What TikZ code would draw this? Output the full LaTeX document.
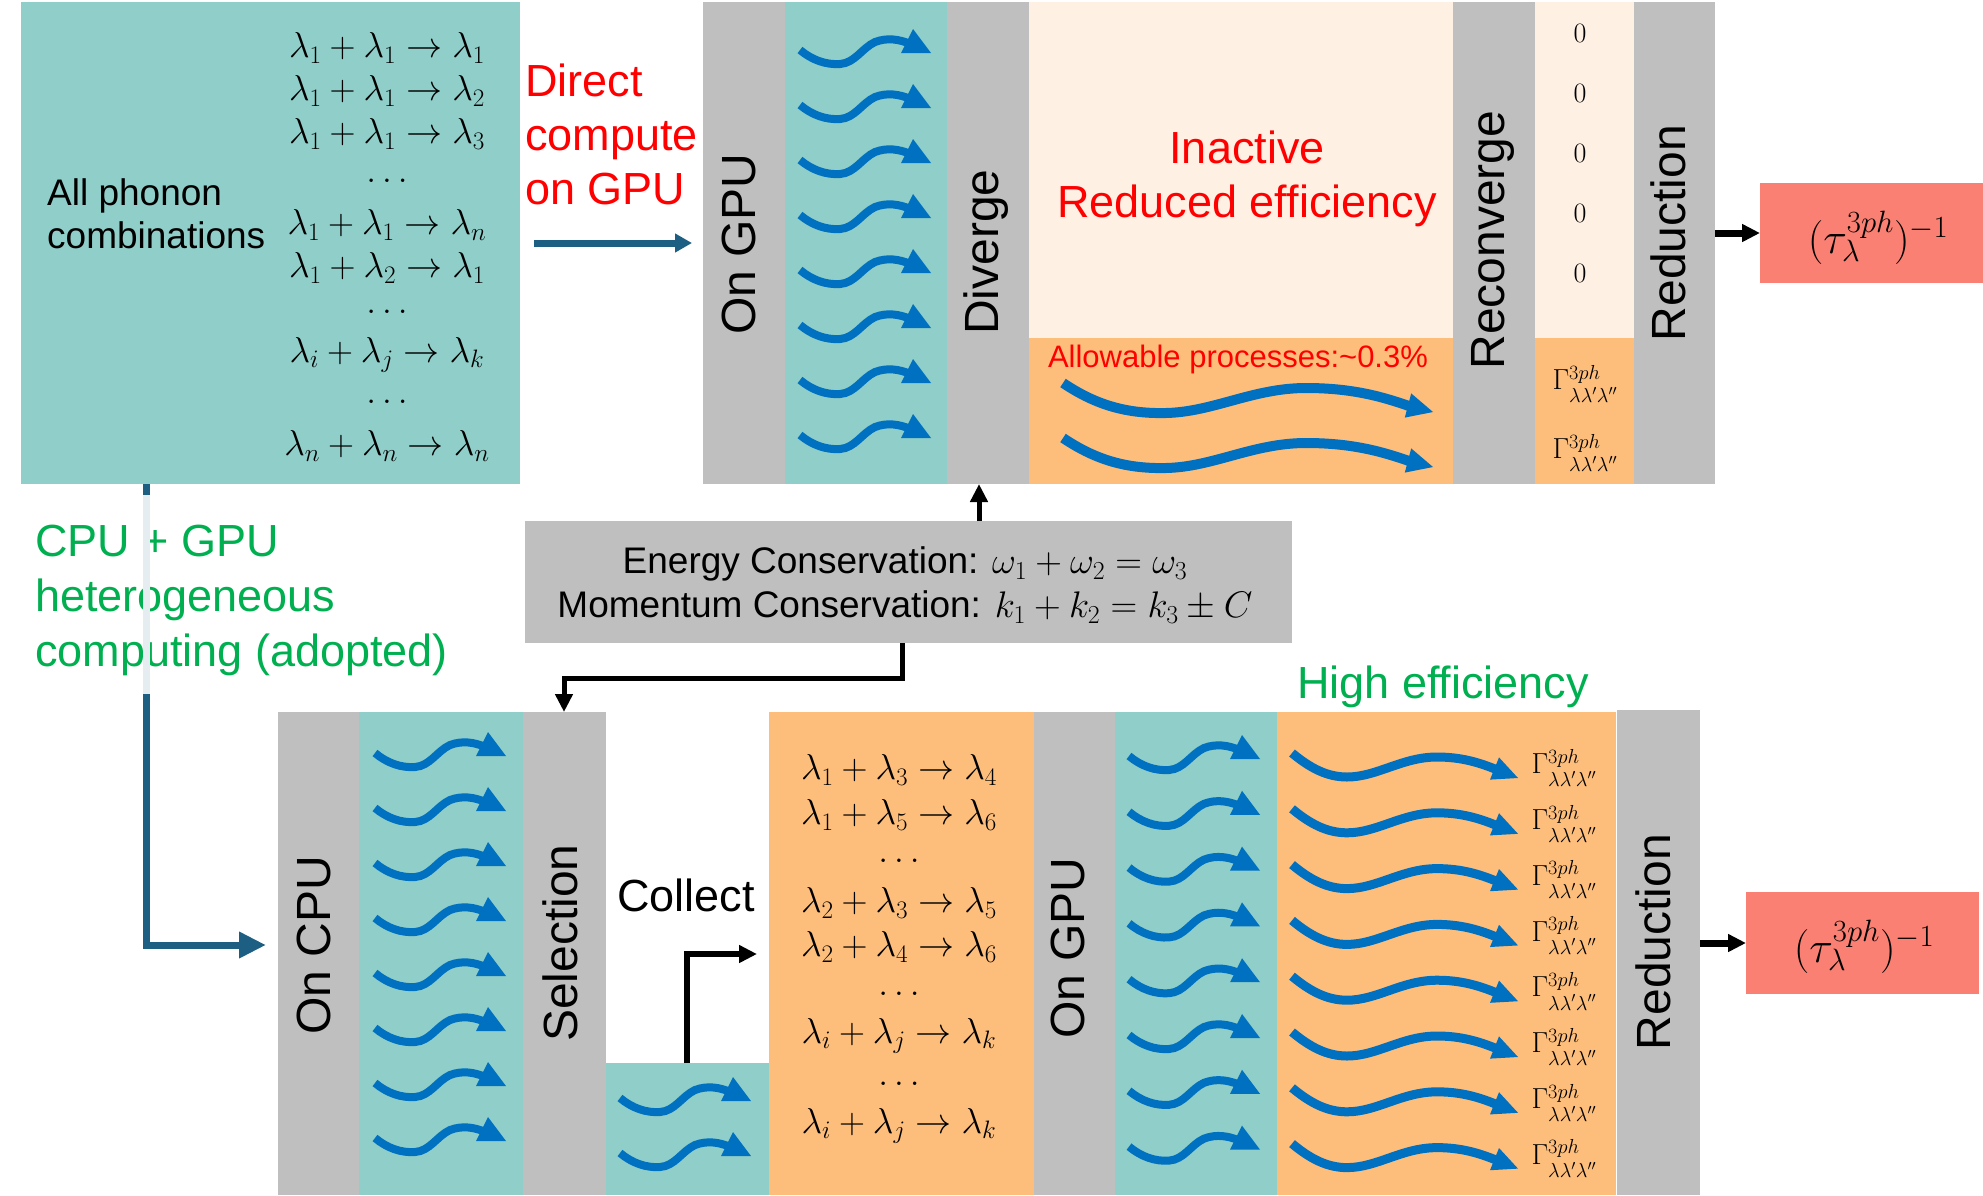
\documentclass[tikz,border=0pt]{standalone}
\usepackage{fix-cm}
\usepackage[no-math]{fontspec}
\setmainfont{Liberation Sans}
\usetikzlibrary{arrows.meta,fit}
\definecolor{cteal}{HTML}{8FCEC9}
\definecolor{cgray}{HTML}{BFBFBF}
\definecolor{cpeach}{HTML}{FEF0E3}
\definecolor{corange}{HTML}{FDBE7C}
\definecolor{csalmon}{HTML}{F98072}
\definecolor{cwave}{HTML}{0070C0}
\definecolor{cdark}{HTML}{1D5F82}
\definecolor{cred}{HTML}{FF0000}
\definecolor{cgreen}{HTML}{00B050}
\definecolor{clight}{HTML}{E6EDF0}
\newcommand\mkblock[6]{%
  \path (#3,#4) coordinate (#1-a) (#5,#6) coordinate (#1-b);
  \node[blockbox, fill=#2, fit=(#1-a)(#1-b)] (#1) {};}
\newcommand\gexpr{$\Gamma^{3ph}_{\lower6pt\hbox{$\scriptstyle\lambda\lambda'\lambda''$}}$}
\tikzset{
  blockbox/.style={inner sep=0pt, outer sep=0pt, draw=none, rectangle},
  vlabel/.style={rotate=90, inner sep=0pt, font=\fontsize{48}{48}\selectfont},
  eqn/.style={inner sep=0pt, font=\fontsize{36}{43}\selectfont},
  gam/.style={inner sep=0pt, font=\fontsize{29}{32}\selectfont},
  zer/.style={inner sep=0pt, font=\fontsize{28}{30}\selectfont},
  taut/.style={inner sep=0pt, font=\fontsize{44}{50}\selectfont},
  bigred/.style={inner sep=0pt, text=cred, font=\fontsize{45}{54}\selectfont},
  biggreen/.style={inner sep=0pt, text=cgreen, font=\fontsize{45}{55}\selectfont},
  dkarrow/.style={draw=cdark, line width=7pt, -{Triangle[length=17pt,width=18pt]}},
  dkarrowb/.style={draw=cdark, line width=7pt, -{Triangle[length=27pt,width=25pt]}},
  blkarrow/.style={draw=black, line width=5pt, -{Triangle[length=18pt,width=17pt]}},
  pics/wshort/.style={code={
    \draw[draw=cwave, line width=8pt] (0,-2) .. controls (12,8) and (26,13) .. (40,12)
      .. controls (55,11) and (62,-4) .. (75,-10) .. controls (88,-15) and (100,-12) .. (108,-9);
    \fill[cwave] (113,-23) -- (131,1) -- (101,1) -- cycle;
  }},
  pics/wlongA/.style={code={
    \draw[draw=cwave, line width=10pt] (0,0) .. controls (30,20) and (60,31) .. (103,30)
      .. controls (150,29) and (190,5) .. (243,5) .. controls (290,5) and (320,14) .. (346,23);
    \fill[cwave] (348.2,10.4) -- (370,29) -- (341.8,34.6) -- cycle;
  }},
  pics/wlongB/.style={code={
    \draw[draw=cwave, line width=9pt] (0,0) .. controls (18,15) and (35,24) .. (55,24)
      .. controls (85,24) and (110,4) .. (145,4) .. controls (170,4) and (188,10) .. (203,16);
    \fill[cwave] (207,4.4) -- (226,25) -- (198,26.6) -- cycle;
  }},
}
\begin{document}
\begin{tikzpicture}[x=1pt,y=-1pt]
\fill[white] (0,0) rectangle (1983,1195);
\useasboundingbox (0,0) rectangle (1983,1195);

% ---------- top row blocks
\mkblock{allc}{cteal}{21}{2}{520}{484}
\mkblock{gpuA}{cgray}{703}{2}{785}{484}
\mkblock{tealA}{cteal}{785}{2}{947}{484}
\mkblock{divA}{cgray}{947}{2}{1029}{484}
\mkblock{inact}{cpeach}{1029}{2}{1453}{338}
\mkblock{allow}{corange}{1029}{338}{1453}{484}
\mkblock{recA}{cgray}{1453}{2}{1535}{484}
\mkblock{zeroA}{cpeach}{1535}{2}{1634}{338}
\mkblock{gamA}{corange}{1535}{338}{1634}{484}
\mkblock{redA}{cgray}{1634}{2}{1715}{484}
\mkblock{tauA}{csalmon}{1760}{183}{1983}{283}

% ---------- middle block
\mkblock{cons}{cgray}{525}{521}{1292}{643}

% ---------- bottom row blocks
\mkblock{cpuB}{cgray}{278}{712}{359}{1195}
\mkblock{tealB}{cteal}{359}{712}{523}{1195}
\mkblock{selB}{cgray}{523}{712}{606}{1195}
\mkblock{collB}{cteal}{606}{1063}{769}{1195}
\mkblock{eqB}{corange}{769}{712}{1034}{1195}
\mkblock{gpuB}{cgray}{1034}{712}{1115}{1195}
\mkblock{tealC}{cteal}{1115}{712}{1277}{1195}
\mkblock{gamB}{corange}{1277}{712}{1616}{1195}
\mkblock{redB}{cgray}{1617}{710}{1700}{1195}
\mkblock{tauB}{csalmon}{1746}{892}{1979}{994}

% ---------- column labels
\node[vlabel] (lgpuA) at (739,244) {On GPU};
\node[vlabel] (ldivA) at (986,252) {Diverge};
\node[vlabel] (lrecA) at (1493,240) {Reconverge};
\node[vlabel] (lredA) at (1668,233) {Reduction};
\node[vlabel] (lcpuB) at (314,945) {On CPU};
\node[vlabel] (lselB) at (560,943) {Selection};
\node[vlabel] (lgpuB) at (1068,948) {On GPU};
\node[vlabel] (lredB) at (1653,942) {Reduction};

% ---------- top-left text and equations
\node[inner sep=0pt, align=left, anchor=west, font=\fontsize{37}{43}\selectfont] (tall) at (47,214) {All phonon\\combinations};
\node[eqn] (ea1) at (387,48) {$\lambda_1+\lambda_1\to\lambda_1$};
\node[eqn] (ea2) at (387,91) {$\lambda_1+\lambda_1\to\lambda_2$};
\node[eqn] (ea3) at (387,134) {$\lambda_1+\lambda_1\to\lambda_3$};
\node[eqn] (ea4) at (387,181) {$\dots$};
\node[eqn] (ea5) at (387,225) {$\lambda_1+\lambda_1\to\lambda_n$};
\node[eqn] (ea6) at (387,268) {$\lambda_1+\lambda_2\to\lambda_1$};
\node[eqn] (ea7) at (387,312) {$\dots$};
\node[eqn] (ea8) at (387,355) {$\lambda_i+\lambda_j\to\lambda_k$};
\node[eqn] (ea9) at (387,402) {$\dots$};
\node[eqn] (ea10) at (387,446) {$\lambda_n+\lambda_n\to\lambda_n$};

\node[bigred, align=left, anchor=west] (tdirect) at (525,134) {Direct\\compute\\on GPU};
\node[bigred, align=center] (tinact) at (1247,179) {Inactive\\Reduced efficiency};
\node[inner sep=0pt, text=cred, font=\fontsize{31}{36}\selectfont] (tallow) at (1238,359) {Allowable processes:\textasciitilde 0.3\%};

% zeros and gammas (top)
\foreach \yy [count=\i] in {33,93,153,213,273}
  \node[zer] (z\i) at (1580,\yy) {$0$};
\node[gam] (gA1) at (1585,384) {\gexpr};
\node[gam] (gA2) at (1585,453) {\gexpr};
\node[taut] (tauAt) at (1878,238) {$(\tau_\lambda^{3ph})^{-1}$};

% wavy arrows (top)
\foreach \k in {0,...,7} \pic at (800,52+55*\k) {wshort};
\pic at (1063,383) {wlongA};
\pic at (1063,438) {wlongA};

% ---------- middle texts
\node[inner sep=0pt, font=\fontsize{37}{43}\selectfont] (en1) at (905,564) {Energy Conservation: $\omega_1+\omega_2=\omega_3$};
\node[inner sep=0pt, font=\fontsize{37}{43}\selectfont] (en2) at (905,607) {Momentum Conservation: $k_1+k_2=k_3\pm C$};
\node[biggreen, align=left, anchor=west] (tcpugpu) at (35,600) {CPU + GPU\\heterogeneous\\computing (adopted)};
\node[biggreen] (thigh) at (1443,687) {High efficiency};
\node[inner sep=0pt, font=\fontsize{45}{54}\selectfont] (tcollect) at (686,895) {Collect};

% ---------- bottom equations
\node[eqn] (eb1) at (899,770) {$\lambda_1+\lambda_3\to\lambda_4$};
\node[eqn] (eb2) at (899,815) {$\lambda_1+\lambda_5\to\lambda_6$};
\node[eqn] (eb3) at (899,861) {$\dots$};
\node[eqn] (eb4) at (899,903) {$\lambda_2+\lambda_3\to\lambda_5$};
\node[eqn] (eb5) at (899,947) {$\lambda_2+\lambda_4\to\lambda_6$};
\node[eqn] (eb6) at (899,994) {$\dots$};
\node[eqn] (eb7) at (899,1036) {$\lambda_i+\lambda_j\to\lambda_k$};
\node[eqn] (eb8) at (899,1084) {$\dots$};
\node[eqn] (eb9) at (899,1126) {$\lambda_i+\lambda_j\to\lambda_k$};

% wavy arrows (bottom)
\foreach \k in {0,...,7} \pic at (375,755+55*\k) {wshort};
\pic at (620,1100) {wshort};
\pic at (620,1155) {wshort};
\foreach \k in {0,...,7} \pic at (1129,758+55.8*\k) {wshort};
\foreach \k in {0,...,7} \pic at (1292,753+55.8*\k) {wlongB};
\foreach \k in {0,...,7}
  \node[gam] (gB\k) at (1564,768+55.8*\k) {\gexpr};
\node[taut] (tauBt) at (1864,947) {$(\tau_\lambda^{3ph})^{-1}$};

% ---------- connectors
\coordinate (dirS) at (534,243);
\coordinate (dirE) at (692,243);
\draw[dkarrow] (dirS) -- (dirE);

\coordinate (dk1) at (146,495);
\coordinate (dk2) at (146,694);
\coordinate (dk3) at (146,945);
\coordinate (dkend) at (266,945);
\draw[draw=cdark, line width=7pt] (allc.south -| dk1) -- (dk1);
\draw[draw=clight, line width=7pt] (dk1) -- (dk2);
\draw[dkarrowb] (dk2) -- (dk3) -- (dkend);

\coordinate (up1) at (979,500);
\draw[blkarrow] (cons.north -| up1) -- (divA.south -| up1);
\coordinate (dn1) at (902,678);
\coordinate (dn2) at (564,678);
\draw[blkarrow] (cons.south -| dn1) -- (dn1) -- (dn2) -- (selB.north -| dn2);
\coordinate (co1) at (687,954);
\coordinate (co2) at (757,954);
\draw[blkarrow, line width=6pt] (collB.north -| co1) -- (co1) -- (co2);
\draw[blkarrow, line width=7pt] (redA.east |- tauA.west) -- (tauA.west);
\draw[blkarrow, line width=7pt] (redB.east |- tauB.west) -- (tauB.west);
\end{tikzpicture}
\end{document}
